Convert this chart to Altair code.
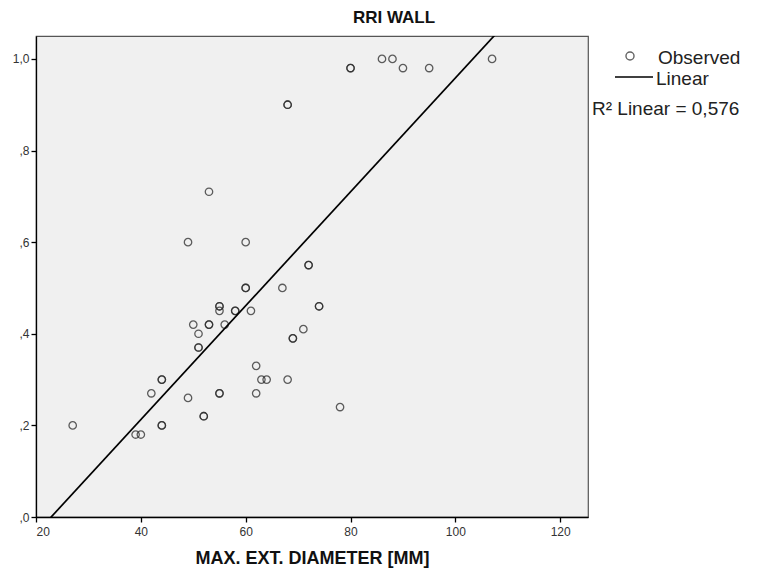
import altair as alt
import pandas as pd

# MAX. EXT. DIAMETER [MM] values (duplicates where circles overlap / look darker)
diameter = [27, 39, 40, 42, 44, 44, 44, 44, 49, 50, 49, 51, 51, 51, 52, 52,
            53, 53, 53, 55, 55, 55, 55, 55, 56, 58, 58, 60, 60, 60, 61, 62,
            62, 63, 64, 67, 68, 68, 68, 69, 69, 71, 72, 72, 74, 74, 78, 80,
            80, 86, 88, 90, 95, 107]
# RRI WALL values
rri = [0.20, 0.18, 0.18, 0.27, 0.30, 0.30, 0.20, 0.20, 0.26, 0.42, 0.60, 0.40,
       0.37, 0.37, 0.22, 0.22, 0.71, 0.42, 0.42, 0.46, 0.46, 0.45, 0.27, 0.27,
       0.42, 0.45, 0.45, 0.60, 0.50, 0.50, 0.45, 0.33, 0.27, 0.30, 0.30, 0.50,
       0.30, 0.90, 0.90, 0.39, 0.39, 0.41, 0.55, 0.55, 0.46, 0.46, 0.24, 0.98,
       0.98, 1.00, 1.00, 0.98, 0.98, 1.00]

x_ticks = [20, 40, 60, 80, 100, 120]
y_ticks = [0.0, 0.2, 0.4, 0.6, 0.8, 1.0]
x_domain = [20, 125.3]
y_domain = [0, 1.05]

title_text = "RRI WALL"
x_title = "MAX. EXT. DIAMETER [MM]"
legend_observed = "Observed"
legend_linear = "Linear"
r2_text = "R\u00b2 Linear = 0,576"

df = pd.DataFrame({"x": diameter, "y": rri})
one = pd.DataFrame({"a": [0]})

FONT = "Liberation Sans"

xs = alt.Scale(domain=x_domain, nice=False, zero=False)
ys = alt.Scale(domain=y_domain, nice=False, zero=False)

x_enc = alt.X("x:Q", scale=xs, title=x_title,
              axis=alt.Axis(values=x_ticks, format="d"))
y_enc = alt.Y("y:Q", scale=ys, title=None,
              axis=alt.Axis(values=y_ticks,
                            labelExpr="replace(replace(format(datum.value, '.1f'), '0.', ','), '.', ',')"))

points = alt.Chart(df).mark_point(
    shape="circle", filled=False, size=55, strokeWidth=1.3,
    color="#2a2a2a", opacity=0.75
).encode(x=x_enc, y=y_enc)

fit = alt.Chart(df).transform_regression(
    "x", "y", extent=x_domain
).mark_line(color="black", strokeWidth=1.7, clip=True).encode(
    x=alt.X("x:Q", scale=xs), y=alt.Y("y:Q", scale=ys)
)

title_mark = alt.Chart(one).mark_text(
    text=title_text, font=FONT, fontSize=17, fontWeight="bold",
    align="center", baseline="middle", color="#111"
).encode(x=alt.value(358), y=alt.value(-18))

leg_circle = alt.Chart(one).mark_point(
    shape="circle", filled=False, size=65, strokeWidth=1.4, color="#222"
).encode(x=alt.value(594), y=alt.value(20))

leg_obs = alt.Chart(one).mark_text(
    text=legend_observed, font=FONT, fontSize=19, align="left",
    baseline="middle", color="#222"
).encode(x=alt.value(622), y=alt.value(22))

leg_line = alt.Chart(one).mark_rule(color="black", strokeWidth=1.6).encode(
    x=alt.value(579), x2=alt.value(617), y=alt.value(41)
)

leg_lin = alt.Chart(one).mark_text(
    text=legend_linear, font=FONT, fontSize=19, align="left",
    baseline="middle", color="#222"
).encode(x=alt.value(620), y=alt.value(43))

leg_r2 = alt.Chart(one).mark_text(
    text=r2_text, font=FONT, fontSize=19, align="left",
    baseline="middle", color="#222"
).encode(x=alt.value(556), y=alt.value(73))

chart = alt.layer(
    points, fit, title_mark, leg_circle, leg_obs, leg_line, leg_lin, leg_r2
).properties(
    width=552, height=481,
    autosize=alt.AutoSizeParams(type="none"),
    padding={"left": 36, "top": 36, "right": 169, "bottom": 52},
    background="white"
).configure_view(
    fill="#f0f0f0", stroke="#555", strokeWidth=1.2
).configure_axis(
    grid=False, domainColor="black", domainWidth=1.3, tickColor="black",
    tickSize=5, tickWidth=1.3, labelFont=FONT, labelFontSize=12,
    labelColor="#333", titleFont=FONT, titleFontSize=18,
    titleFontWeight="bold", titleColor="#111"
).configure_axisX(
    labelPadding=4, titlePadding=12
).configure_axisY(
    labelPadding=2
)

chart.save("out.html", embed_options={"renderer": "svg", "actions": False})
